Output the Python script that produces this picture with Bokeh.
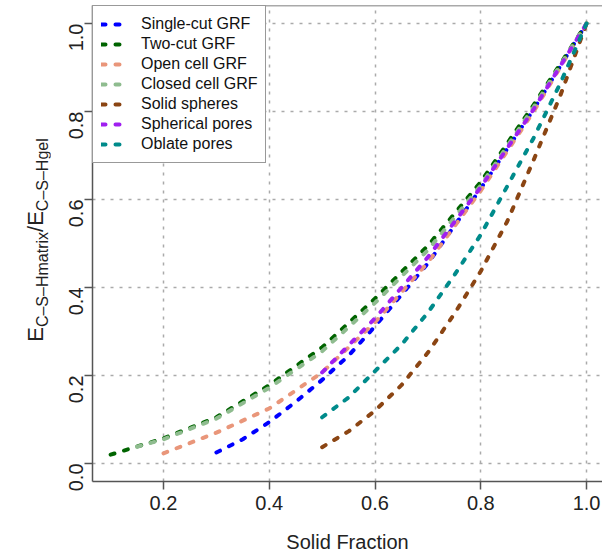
import math
from bokeh.plotting import figure
from bokeh.layouts import row
from bokeh.models import (Range1d, FixedTicker, NumeralTickFormatter, Legend, LegendItem,
                          Span, Div)
from bokeh.embed import file_html
from bokeh.resources import INLINE

# ---- data ----
single_x = [0.3, 0.35, 0.4, 0.45, 0.5, 0.55, 0.6, 0.7, 0.8, 0.9, 1.0]
single_y = [0.025, 0.055, 0.094, 0.14, 0.19, 0.245, 0.312, 0.455, 0.625, 0.805, 1.0]
two_x = [0.1, 0.2, 0.3, 0.4, 0.5, 0.6, 0.7, 0.8, 0.9, 1.0]
two_y = [0.02, 0.057, 0.105, 0.178, 0.264, 0.375, 0.495, 0.64, 0.815, 1.0]
open_x = [0.2, 0.3, 0.4, 0.5, 0.6, 0.7, 0.8, 0.9, 1.0]
open_y = [0.023, 0.07, 0.125, 0.207, 0.321, 0.457, 0.62, 0.80, 1.0]
closed_x = [0.15, 0.2, 0.3, 0.4, 0.5, 0.6, 0.7, 0.8, 0.9, 1.0]
closed_y = [0.038, 0.055, 0.102, 0.172, 0.255, 0.365, 0.485, 0.632, 0.81, 1.0]
solid_x = [0.5, 0.55, 0.6, 0.65, 0.7, 0.75, 0.8, 0.85, 0.9, 0.95, 1.0]
solid_y = [0.037, 0.073, 0.12, 0.178, 0.252, 0.34, 0.437, 0.55, 0.69, 0.835, 1.0]
sph_x = [0.5, 0.6, 0.7, 0.8, 0.9, 1.0]
sph_y = [0.207, 0.33, 0.469, 0.628, 0.805, 1.0]
oblate_x = [0.5, 0.55, 0.6, 0.65, 0.7, 0.75, 0.8, 0.85, 0.9, 0.95, 1.0]
oblate_y = [0.105, 0.15, 0.21, 0.27, 0.343, 0.428, 0.52, 0.63, 0.74, 0.863, 1.0]

series_names = ["Single-cut GRF", "Two-cut GRF", "Open cell GRF", "Closed cell GRF",
                "Solid spheres", "Spherical pores", "Oblate pores"]
series_colors = ["#0000FF", "#006400", "#E9967A", "#8FBC8F", "#8B4513", "#A020F0", "#008B8B"]
series_data = [(single_x, single_y), (two_x, two_y), (open_x, open_y), (closed_x, closed_y),
               (solid_x, solid_y), (sph_x, sph_y), (oblate_x, oblate_y)]

x_ticks = [0.2, 0.4, 0.6, 0.8, 1.0]
y_ticks = [0.0, 0.2, 0.4, 0.6, 0.8, 1.0]

FONT = "Liberation Sans"
X0, X1 = 0.0657, 1.0302
Y0, Y1 = -0.041, 1.041
LEFT_W = 50

p = figure(width=602 - LEFT_W, height=557, output_backend="svg", toolbar_location=None,
           x_range=Range1d(X0, X1), y_range=Range1d(Y0, Y1),
           min_border_left=92 - LEFT_W, min_border_right=0, min_border_top=5,
           min_border_bottom=76, margin=0)
p.background_fill_color = "white"
p.border_fill_color = "white"
p.outline_line_color = None

# axes
for ax in (p.xaxis[0], p.yaxis[0]):
    ax.axis_line_color = "#555555"
    ax.axis_line_width = 1.5
    ax.major_tick_line_color = "#555555"
    ax.major_tick_line_width = 1.5
    ax.major_tick_out = 8
    ax.major_tick_in = 0
    ax.minor_tick_line_color = None
    ax.major_label_text_font = FONT
    ax.major_label_text_font_size = "20px"
    ax.major_label_text_color = "#222222"
    ax.formatter = NumeralTickFormatter(format="0.0")

p.xaxis.ticker = FixedTicker(ticks=x_ticks)
p.yaxis.ticker = FixedTicker(ticks=y_ticks)
p.xaxis.major_label_standoff = 6
p.yaxis.major_label_standoff = 8
p.yaxis.major_label_orientation = math.pi / 2
p.xaxis.axis_label = "Solid Fraction"
p.xaxis.axis_label_text_font = FONT
p.xaxis.axis_label_text_font_size = "20px"
p.xaxis.axis_label_text_font_style = "normal"
p.xaxis.axis_label_text_color = "#222222"
p.xaxis.axis_label_standoff = 18

# top border
p.add_layout(Span(location=Y1, dimension="width", line_color="#555555", line_width=1.5))

# grid
p.xgrid.ticker = FixedTicker(ticks=x_ticks)
p.ygrid.ticker = FixedTicker(ticks=y_ticks)
for g in (p.xgrid[0], p.ygrid[0]):
    g.grid_line_color = "#aaaaaa"
    g.grid_line_width = 1.5
    g.grid_line_dash = "3 6"

# series
items = []
for name, color, (xs, ys) in zip(series_names, series_colors, series_data):
    r = p.line(xs, ys, line_color=color, line_width=4, line_dash="4 10", line_cap="round")
    items.append(LegendItem(label=name, renderers=[r]))

legend = Legend(items=items, location="top_left", margin=0, padding=8, spacing=0,
                glyph_width=22, glyph_height=20, label_height=20, label_standoff=18,
                label_text_font=FONT, label_text_font_size="16px", label_text_color="#111111",
                border_line_color="#333333", border_line_width=1,
                background_fill_color="white", background_fill_alpha=1.0)
p.add_layout(legend)

# y-axis title with subscripts, rotated, as real HTML text
ylabel_html = (
    '<div style="position:absolute; left:38px; top:240px; '
    'transform:translate(-50%,-50%) rotate(-90deg); white-space:nowrap; '
    "font-family:'Liberation Sans', Arial, sans-serif; font-size:22px; color:#222222; "
    'line-height:1;">'
    'E<sub style="font-size:16px; vertical-align:-5px;">C\u2013S\u2013Hmatrix</sub>/'
    'E<sub style="font-size:16px; vertical-align:-5px;">C\u2013S\u2013Hgel</sub></div>'
)
ylab = Div(text=ylabel_html, width=LEFT_W, height=557, margin=0,
           styles={"position": "relative", "overflow": "visible", "background": "white"})

layout = row(ylab, p, spacing=0, margin=0)
open("out.html", "w").write(file_html(layout, INLINE))
